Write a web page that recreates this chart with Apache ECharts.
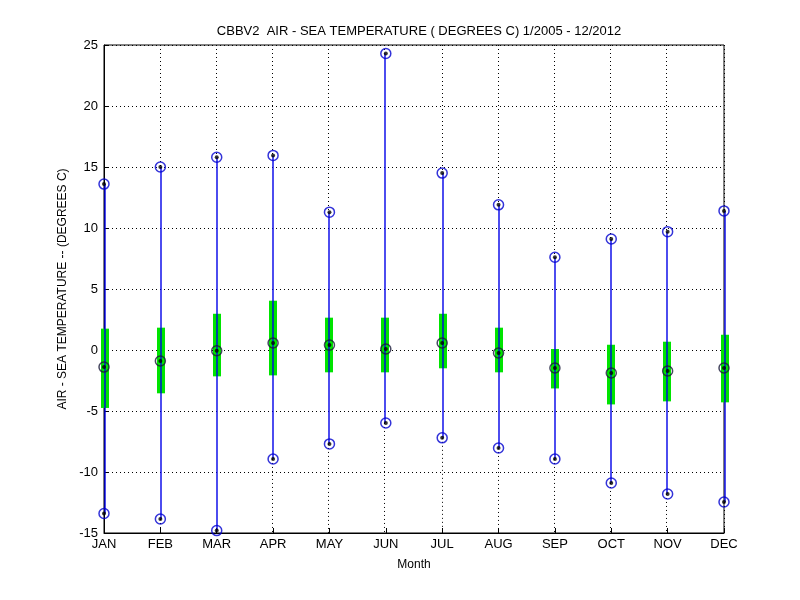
<!DOCTYPE html>
<html>
<head>
<meta charset="utf-8">
<script src="https://cdn.jsdelivr.net/npm/echarts@6/dist/echarts.min.js"></script>
<style>
  html, body { margin: 0; padding: 0; background: #fff; }
  #chart { width: 800px; height: 600px; }
</style>
</head>
<body>
<div id="chart"></div>
<script>
var months = ['JAN', 'FEB', 'MAR', 'APR', 'MAY', 'JUN', 'JUL', 'AUG', 'SEP', 'OCT', 'NOV', 'DEC'];
var maxVals = [13.6, 15.0, 15.8, 15.95, 11.3, 24.3, 14.5, 11.9, 7.6, 9.1, 9.7, 11.4];
var q3Vals = [1.75, 1.83, 2.97, 4.04, 2.65, 2.65, 2.97, 1.83, 0.08, 0.43, 0.68, 1.25];
var medVals = [-1.4, -0.9, -0.06, 0.57, 0.4, 0.08, 0.57, -0.25, -1.48, -1.89, -1.72, -1.48];
var q1Vals = [-4.75, -3.55, -2.16, -2.08, -1.83, -1.83, -1.5, -1.83, -3.15, -4.46, -4.21, -4.29];
var minVals = [-13.4, -13.85, -14.8, -8.93, -7.7, -5.98, -7.2, -8.03, -8.93, -10.9, -11.8, -12.46];

var boxData = months.map(function(m, i) {
    return [i, minVals[i], q1Vals[i], q3Vals[i], maxVals[i]];
});
var extremes = [];
months.forEach(function(m, i) {
    extremes.push([i, maxVals[i]]);
    extremes.push([i, minVals[i]]);
});
var medians = months.map(function(m, i) { return [i, medVals[i]]; });
var allPts = extremes.concat(medians);

var font = 'Liberation Sans, Arial, sans-serif';

// whisker, quartile bar and the vertical dotted grid line of each month.
// whisker sits on an even pixel pair so it stays blue after jpeg
function renderBox(params, api) {
    var x = api.value(0);
    var pMin = api.coord([x, api.value(1)]);
    var pQ1 = api.coord([x, api.value(2)]);
    var pQ3 = api.coord([x, api.value(3)]);
    var pMax = api.coord([x, api.value(4)]);
    var cs = params.coordSys;
    var cx = 2 * Math.floor(pMax[0] / 2) + 1;
    var w = 8;
    var dots = { stroke: '#000', lineWidth: 1, lineDash: [1, 3] };
    return {
        type: 'group',
        children: [{
            type: 'line',
            shape: { x1: cx - 0.5, y1: cs.y, x2: cx - 0.5, y2: pMax[1] },
            style: dots
        }, {
            type: 'line',
            shape: { x1: cx - 0.5, y1: pMin[1], x2: cx - 0.5, y2: cs.y + cs.height },
            style: dots
        }, {
            type: 'rect',
            shape: { x: cx - w / 2, y: pQ3[1], width: w, height: pQ1[1] - pQ3[1] },
            style: { fill: '#00e400' }
        }, {
            type: 'line',
            shape: { x1: cx, y1: pMax[1], x2: cx, y2: pMin[1] },
            style: { stroke: '#0000e8', lineWidth: 1.4 }
        }]
    };
}

var chart = echarts.init(document.getElementById('chart'));
chart.setOption({
    backgroundColor: '#fff',
    animation: false,
    title: {
        text: 'CBBV2  AIR - SEA TEMPERATURE ( DEGREES C) 1/2005 - 12/2012',
        left: 414,
        textAlign: 'center',
        top: 20,
        textStyle: { fontFamily: font, fontSize: 13, fontWeight: 'normal', color: '#000' }
    },
    grid: {
        left: 104, right: 76, top: 45, bottom: 67,
        show: true, borderColor: '#000', borderWidth: 1, backgroundColor: 'transparent'
    },
    xAxis: {
        type: 'category',
        data: months,
        boundaryGap: false,
        name: 'Month',
        nameLocation: 'middle',
        nameGap: 26,
        nameTextStyle: { fontFamily: font, fontSize: 12, color: '#000' },
        axisLine: { onZero: false, lineStyle: { color: '#000', width: 1 } },
        axisTick: { inside: true, length: 5, lineStyle: { color: '#000' } },
        axisLabel: { fontFamily: font, fontSize: 13, color: '#000', margin: 5 },
        splitLine: { show: false }
    },
    yAxis: {
        type: 'value',
        min: -15,
        max: 25,
        interval: 5,
        name: 'AIR - SEA TEMPERATURE -- (DEGREES C)',
        nameLocation: 'middle',
        nameGap: 32,
        nameTextStyle: { fontFamily: font, fontSize: 12, color: '#000' },
        axisLine: { show: true, onZero: false, lineStyle: { color: '#000', width: 1 } },
        axisTick: { show: true, inside: true, length: 5, lineStyle: { color: '#000' } },
        axisLabel: { fontFamily: font, fontSize: 13, color: '#000', margin: 6 },
        splitLine: { show: true, lineStyle: { color: '#000', type: [1, 3], width: 1 } }
    },
    series: [{
        type: 'custom',
        renderItem: renderBox,
        data: boxData,
        encode: { x: 0, y: [1, 2, 3, 4] },
        clip: false,
        z: 2
    }, {
        type: 'scatter',
        data: extremes,
        symbol: 'circle',
        symbolSize: 10,
        itemStyle: { color: 'rgba(0,0,0,0)', borderColor: '#0000d0', borderWidth: 1.5 },
        z: 3
    }, {
        type: 'scatter',
        data: medians,
        symbol: 'circle',
        symbolSize: 10,
        itemStyle: { color: 'rgba(0,0,0,0)', borderColor: '#1a1a3a', borderWidth: 1.5 },
        z: 3
    }, {
        type: 'scatter',
        data: allPts,
        symbol: 'circle',
        symbolSize: 4,
        itemStyle: { color: '#000' },
        z: 4
    }]
});
</script>
</body>
</html>
